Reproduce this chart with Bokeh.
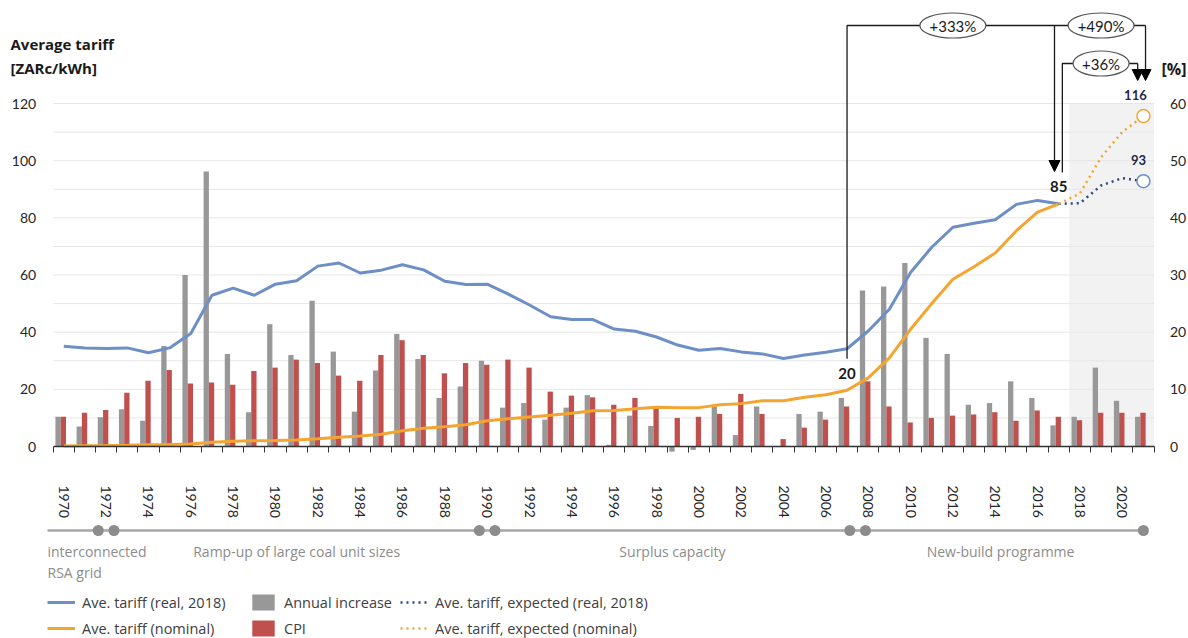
import numpy as np
from math import pi
from bokeh.plotting import figure
from bokeh.models import (Range1d, LinearAxis, FixedTicker, BoxAnnotation, Label,
                          Arrow, NormalHead, Legend, LegendItem)
from bokeh.embed import file_html
from bokeh.resources import INLINE
from bokeh.core.properties import value

# ---------------- data ----------------
years = list(range(1970, 2022))
hist_years = list(range(1970, 2018))
tariff_real = [35.1, 34.5, 34.3, 34.5, 32.8, 34.5, 39.5, 52.9, 55.4, 52.9,
               56.8, 58.0, 63.1, 64.2, 60.7, 61.7, 63.6, 61.8, 57.8, 56.7,
               56.8, 53.3, 49.5, 45.4, 44.4, 44.4, 41.1, 40.3, 38.3, 35.5,
               33.7, 34.3, 33.1, 32.4, 30.8, 32.0, 33.0, 34.2, 40.4, 48.0,
               60.9, 69.7, 76.7, 78.1, 79.3, 84.7, 86.1, 84.9]
tariff_nominal = [0.2, 0.3, 0.35, 0.45, 0.6, 0.7, 0.9, 1.5, 1.8, 2.0,
                  2.1, 2.3, 2.7, 3.2, 3.7, 4.3, 5.5, 6.4, 6.9, 7.6,
                  9.0, 9.7, 10.3, 10.9, 11.6, 12.5, 12.6, 13.2, 13.7, 13.6,
                  13.6, 14.6, 15.0, 16.0, 16.0, 17.2, 18.1, 19.7, 24.0, 31.0,
                  41.0, 50.0, 58.5, 62.9, 67.7, 75.5, 82.0, 84.9]
exp_years = [2017, 2018, 2019, 2020, 2021]
exp_real = [84.9, 85.1, 91.3, 93.9, 92.8]
exp_nominal = [84.9, 88.5, 101.2, 110.0, 115.6]
annual_increase = [5.2, 3.5, 5.1, 6.5, 4.5, 17.6, 30.0, 48.1, 16.2, 6.0,
                   21.4, 16.0, 25.5, 16.6, 6.1, 13.3, 19.7, 15.3, 8.5, 10.5,
                   15.0, 6.8, 7.6, 4.7, 6.8, 9.0, 0.3, 5.4, 3.6, -0.9,
                   -0.6, 7.0, 2.0, 7.0, -0.1, 5.7, 6.1, 8.5, 27.3, 28.0,
                   32.1, 19.0, 16.2, 7.3, 7.6, 11.4, 8.5, 3.7, 5.2, 13.8,
                   8.0, 5.2]
cpi = [5.2, 5.9, 6.4, 9.4, 11.5, 13.4, 11.0, 11.2, 10.8, 13.2,
       13.8, 15.2, 14.6, 12.4, 11.5, 16.0, 18.6, 16.0, 12.8, 14.6,
       14.3, 15.2, 13.8, 9.6, 8.9, 8.6, 7.3, 8.5, 6.9, 5.0,
       5.2, 5.7, 9.2, 5.7, 1.3, 3.3, 4.7, 7.0, 11.4, 7.0,
       4.2, 5.0, 5.4, 5.6, 6.0, 4.5, 6.3, 5.2, 4.6, 5.9,
       5.9, 5.9]
tick_years = list(range(1970, 2021, 2))
left_ticks = [0, 20, 40, 60, 80, 100, 120]
grid_levels = list(range(10, 121, 10))
right_ticks = [0, 10, 20, 30, 40, 50, 60]
growth_labels = ["+333%", "+490%", "+36%"]
phase_labels = ["Ramp-up of large coal unit sizes", "Surplus capacity", "New-build programme"]
phase_bounds = [1972, 1990, 2007.5, 2021]
first_phase_lines = ["interconnected", "RSA grid"]
legend_labels = ["Ave. tariff (real, 2018)", "Ave. tariff (nominal)", "Annual increase", "CPI",
                 "Ave. tariff, expected (real, 2018)", "Ave. tariff, expected (nominal)"]

# ---------------- geometry / style ----------------
BLUE = "#6d8fc6"
ORANGE = "#f4a531"
NAVY = "#2a4684"
GRAY = "#989898"
RED = "#c0504d"
TXT = "#404040"
DARK = "#1a1a1a"
W, H = 1188, 638
FL, FR = 52.7, 34.5             # px left / right of the data area
X0, X1 = 1969.5, 2021.5
U = (X1 - X0) / (W - FL - FR)   # years per px
XL, XR = X0 - FL * U, X1 + FR * U
ZERO_PX = 446                   # px from top where y = 0
UNIT_PX = 343 / 120             # px per ZARc/kWh
YB, YT = -(H - ZERO_PX) / UNIT_PX, ZERO_PX / UNIT_PX
NUM_FONT = "Lato"
LAB_FONT = "Open Sans"


def y_at(px):
    return (ZERO_PX - px) / UNIT_PX


def x_at(px):
    return XL + px * U


p = figure(width=W, height=H, x_range=Range1d(XL, XR), y_range=Range1d(YB, YT),
           output_backend="svg", toolbar_location=None, min_border=0,
           x_axis_type=None, y_axis_type=None)
p.outline_line_color = None
p.background_fill_color = "white"
p.xgrid.visible = False
p.ygrid.visible = False
p.extra_y_ranges = {"pct": Range1d(YB / 2, YT / 2)}

# shaded forecast area
p.add_layout(BoxAnnotation(left=2017.5, right=X1, bottom=0, top=120, fill_color="#f2f2f2",
                           fill_alpha=1, line_color=None, level="underlay"))
# horizontal grid lines (drawn before the bars)
p.segment(x0=X0, x1=X1, y0=grid_levels, y1=grid_levels, line_color="#e6e6e6",
          line_width=1)

# x axis at y = 0
xa = LinearAxis(fixed_location=0, bounds=(X0, X1),
                ticker=FixedTicker(ticks=tick_years,
                                   minor_ticks=[y - 0.5 for y in years] + [years[-1] + 0.5]))
xa.major_tick_out = 0
xa.major_tick_in = 0
xa.minor_tick_out = 6
xa.minor_tick_in = 0
xa.minor_tick_line_color = "#333333"
xa.axis_line_color = "#333333"
xa.axis_line_width = 1.3
xa.major_label_orientation = -pi / 2
xa.major_label_standoff = 33
xa.major_label_text_font = NUM_FONT
xa.major_label_text_font_size = "14px"
xa.major_label_text_color = "#262626"
p.add_layout(xa, "below")

# left axis
ya = LinearAxis(fixed_location=X0, bounds=(0, 120), ticker=FixedTicker(ticks=left_ticks))
# right axis (%)
ra = LinearAxis(fixed_location=X1, y_range_name="pct", bounds=(0, 60),
                ticker=FixedTicker(ticks=right_ticks))
for ax, st in ((ya, 17), (ra, 16)):
    ax.axis_line_color = None
    ax.major_tick_line_color = None
    ax.minor_tick_line_color = None
    ax.major_tick_out = 0
    ax.minor_tick_out = 0
    ax.major_label_standoff = st
    ax.major_label_text_font = NUM_FONT
    ax.major_label_text_font_size = "14px"
    ax.major_label_text_color = "#262626"
p.add_layout(ya, "left")
p.add_layout(ra, "right")

# bars (right axis, %)
yrs = np.array(years, dtype=float)
r_ann = p.vbar(x=yrs - 0.27, top=annual_increase, bottom=0, width=0.25, y_range_name="pct",
               fill_color=GRAY, line_color=None)
r_cpi = p.vbar(x=yrs - 0.02, top=cpi, bottom=0, width=0.25, y_range_name="pct",
               fill_color=RED, line_color=None)

# lines
r_real = p.line(hist_years, tariff_real, line_color=BLUE, line_width=3)
r_nom = p.line(hist_years, tariff_nominal, line_color=ORANGE, line_width=3)
r_er = p.line(exp_years, exp_real, line_color=NAVY, line_width=2.5, line_dash="2 4")
r_en = p.line(exp_years, exp_nominal, line_color=ORANGE, line_width=2.5, line_dash="2 4")
p.scatter([exp_years[-1]], [exp_nominal[-1]], size=13, fill_color="white",
          line_color=ORANGE, line_width=1.5)
p.scatter([exp_years[-1]], [exp_real[-1]], size=13, fill_color="white",
          line_color=BLUE, line_width=1.5)

# value labels
i07 = hist_years.index(2007)
i17 = hist_years.index(2017)
v07 = tariff_nominal[i07]
v17 = tariff_real[i17]
p.text(x=[2007, 2017], y=[v07, v17], text=[f"{round(v07)}", f"{round(v17)}"],
       y_offset=-17, text_align="center", text_baseline="middle",
       text_font=value(NUM_FONT), text_font_size="15px", text_font_style="bold",
       text_color=DARK, background_fill_color="white")
p.text(x=[exp_years[-1], exp_years[-1]], y=[exp_nominal[-1], exp_real[-1]],
       text=[f"{round(exp_nominal[-1])}", f"{round(exp_real[-1])}"],
       x_offset=[-8, -5], y_offset=-21, text_align="center", text_baseline="middle",
       text_font=value(NUM_FONT), text_font_size="13px", text_font_style="bold",
       text_color="#1a2a4a")

# growth brackets
TOP_Y, MID_Y, TIP_Y = y_at(25), y_at(63), y_at(80)
xa07, xa17l, xa17r, xa21l, xa21r = 2007, 2017 - 0.2, 2017 + 0.17, 2021 - 0.27, 2021 + 0.1
p.multi_line(xs=[[xa07, xa07, xa21r], [xa17r, xa17r, xa21l]],
             ys=[[v07 + 11, TOP_Y, TOP_Y], [v17 + 11, MID_Y, MID_Y]],
             line_color=DARK, line_width=1.3)
for (xs_, ys0, ys1) in [(xa21r, TOP_Y, TIP_Y), (xa17l, TOP_Y, v17 + 11.3), (xa21l, MID_Y, TIP_Y)]:
    p.add_layout(Arrow(x_start=xs_, y_start=ys0, x_end=xs_, y_end=ys1,
                       line_color=DARK, line_width=1.3,
                       end=NormalHead(size=11, fill_color="black", line_color="black")))
ell_x = [(2007 + 2017) / 2, (2017 + 2021) / 2, (2017 + 2021) / 2]
ell_y = [TOP_Y, TOP_Y, MID_Y]
p.ellipse(x=ell_x, y=ell_y, width=[66, 66, 56], height=25, width_units="screen",
          height_units="screen", fill_color="white", line_color="#555555", line_width=1.2)
p.text(x=ell_x, y=ell_y, text=growth_labels, text_align="center", text_baseline="middle",
       text_font=value(NUM_FONT), text_font_size="15px", text_color=DARK)

# axis titles
for txt, py in (("Average tariff", 43), ("[ZARc/kWh]", 67)):
    p.add_layout(Label(x=x_at(10), y=y_at(py), text=txt, text_font=LAB_FONT,
                       text_font_size="15px", text_font_style="bold", text_baseline="middle",
                       text_color=DARK))
p.add_layout(Label(x=x_at(1186), y=y_at(68), text="[%]", text_font=LAB_FONT,
                   text_font_size="16px", text_font_style="bold", text_baseline="middle",
                   text_align="right", text_color=DARK))

# ---------------- timeline ----------------
TL_Y = y_at(530)
tl_start = x_at(47)
p.line([tl_start, phase_bounds[-1]], [TL_Y, TL_Y], line_color="#a6a6a6", line_width=2.5)
dots = []
for b in phase_bounds[:-1]:
    dots += [b - 0.37, b + 0.37]
dots.append(phase_bounds[-1])
p.scatter(dots, [TL_Y] * len(dots), size=11, fill_color="#8c8c8c", line_color=None)
p.text(x=[tl_start, tl_start], y=[y_at(551), y_at(572)], text=first_phase_lines,
       text_align="left", text_baseline="middle", text_font=value(LAB_FONT),
       text_font_size="14px", text_color="#8c8c8c")
mids = [(phase_bounds[i] + phase_bounds[i + 1]) / 2 for i in range(3)]
p.text(x=mids, y=[y_at(551)] * 3, text=phase_labels, text_align="center",
       text_baseline="middle", text_font=value(LAB_FONT), text_font_size="14px",
       text_color="#8c8c8c")

# ---------------- legend ----------------
groups = [([r_real, r_nom], legend_labels[0:2], 47), ([r_ann, r_cpi], legend_labels[2:4], 249),
          ([r_er, r_en], legend_labels[4:6], 400)]
for rends, labs, lx in groups:
    leg = Legend(items=[LegendItem(label=l, renderers=[r]) for r, l in zip(rends, labs)],
                 location=(lx, 0), orientation="vertical", padding=0, margin=0, spacing=6,
                 glyph_width=28, glyph_height=20, label_height=20, label_standoff=7,
                 border_line_color=None, background_fill_alpha=0,
                 label_text_font=LAB_FONT, label_text_font_size="14.5px", label_text_color=TXT)
    p.add_layout(leg)

open("out.html", "w").write(file_html(p, INLINE))
